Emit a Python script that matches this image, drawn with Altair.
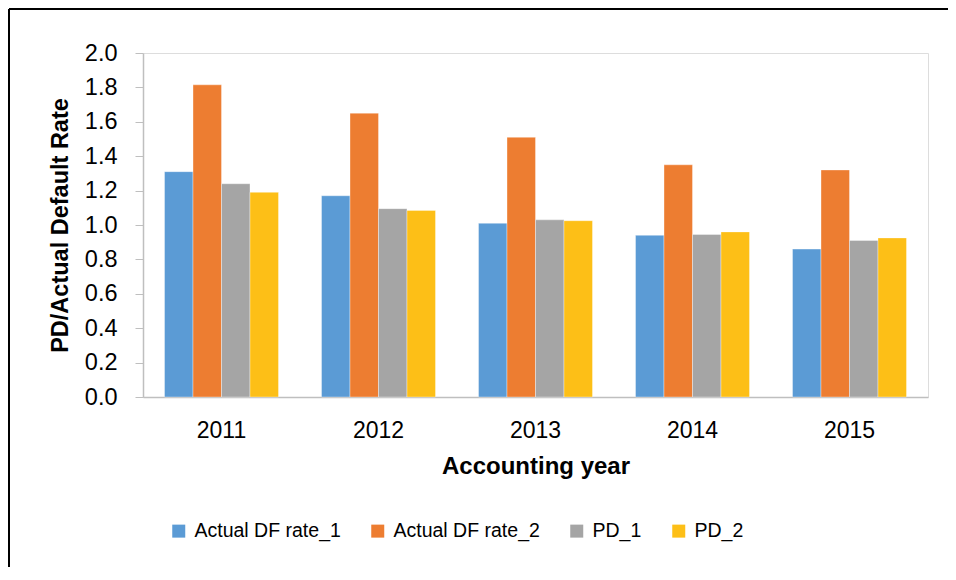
import altair as alt
import pandas as pd

years = ["2011", "2012", "2013", "2014", "2015"]
series = ["Actual DF rate_1", "Actual DF rate_2", "PD_1", "PD_2"]
actual_df_1 = [1.31, 1.17, 1.01, 0.94, 0.86]
actual_df_2 = [1.815, 1.65, 1.51, 1.35, 1.32]
pd_1 = [1.24, 1.095, 1.03, 0.945, 0.91]
pd_2 = [1.19, 1.085, 1.025, 0.96, 0.925]
colors = ["#5B9BD5", "#ED7D31", "#A5A5A5", "#FDBF17"]

rows = []
for s, vals in zip(series, [actual_df_1, actual_df_2, pd_1, pd_2]):
    for y, v in zip(years, vals):
        rows.append({"year": y, "series": s, "value": v})
df = pd.DataFrame(rows)

FONT = "Liberation Sans"

bars = alt.Chart(df).mark_bar(stroke="white", strokeWidth=0.6, strokeOpacity=0.6).encode(
    x=alt.X("year:N", sort=years,
            scale=alt.Scale(paddingInner=0.274, paddingOuter=0.137),
            axis=alt.Axis(title="Accounting year", labelAngle=0, ticks=False,
                          domainColor="#BFBFBF", domainWidth=1.5,
                          labelFontSize=23, labelColor="#000000", labelPadding=22,
                          titleFontSize=24, titleFontWeight="bold", titleColor="#000000",
                          titlePadding=12, labelFont=FONT, titleFont=FONT)),
    xOffset=alt.XOffset("series:N", sort=series, scale=alt.Scale(paddingInner=0, paddingOuter=0)),
    y=alt.Y("value:Q", scale=alt.Scale(domain=[0, 2]),
            axis=alt.Axis(title="PD/Actual Default Rate", values=[0, 0.2, 0.4, 0.6, 0.8, 1.0, 1.2, 1.4, 1.6, 1.8, 2.0],
                          format=".1f", grid=False, tickSize=8, tickColor="#BFBFBF",
                          domainColor="#BFBFBF", domainWidth=1.5,
                          labelFontSize=23.5, labelColor="#000000", labelPadding=18,
                          titleFontSize=23.5, titleFontWeight="bold", titleColor="#000000",
                          titlePadding=12, labelFont=FONT, titleFont=FONT)),
    color=alt.Color("series:N", sort=series,
                    scale=alt.Scale(domain=series, range=colors),
                    legend=alt.Legend(title=None, orient="none", legendX=26, legendY=468,
                                      direction="horizontal", symbolType="square",
                                      symbolSize=169, symbolStrokeWidth=0,
                                      labelFontSize=19.5, labelFont=FONT, labelColor="#000000",
                                      columnPadding=27, labelOffset=6)),
)

top_line = alt.Chart(pd.DataFrame({"k": [0]})).mark_rule(color="black", strokeWidth=2).encode(
    x=alt.value(-134), x2=alt.value(830), y=alt.value(-44))
left_line = alt.Chart(pd.DataFrame({"k": [0]})).mark_rule(color="black", strokeWidth=2).encode(
    x=alt.value(-134), y=alt.value(-44), y2=alt.value(540))

chart = alt.layer(bars, top_line, left_line).properties(
    width=785, height=344,
    autosize=alt.AutoSizeParams(type="none"),
    padding={"left": 135, "top": 45, "right": 20, "bottom": 170},
).configure_view(stroke=None).configure(background="white")

chart.save("out.html", embed_options={"renderer": "svg", "actions": False})
